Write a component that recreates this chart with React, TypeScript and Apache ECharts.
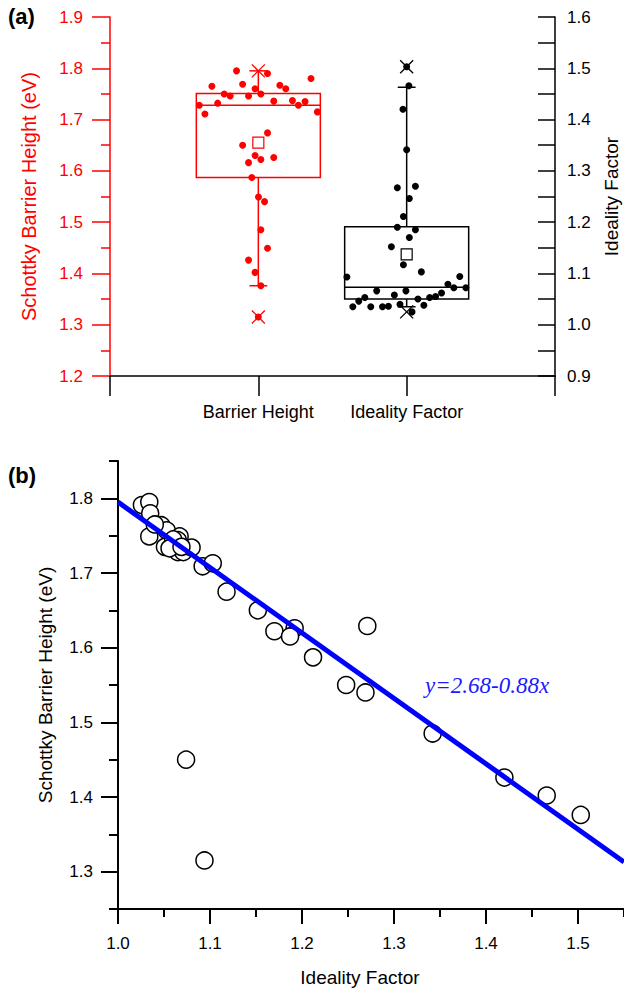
import React, { useEffect, useRef } from 'react';
import * as echarts from 'echarts';

// ---------- Panel (a): box chart data ----------
const categories = ['Barrier Height', 'Ideality Factor'];

const barrierHeights = [1.795, 1.790, 1.765, 1.769, 1.767, 1.760, 1.780, 1.750, 1.746, 1.746, 1.760, 1.750, 1.728, 1.732, 1.711, 1.736, 1.737, 1.728, 1.735, 1.715, 1.674, 1.650, 1.630, 1.616, 1.622, 1.626, 1.587, 1.549, 1.540, 1.485, 1.449, 1.426, 1.402, 1.376, 1.315];
const barrierJitter = [-0.147, 0.062, -0.313, -0.106, 0.145, 0.185, 0.355, -0.230, -0.190, -0.066, -0.022, 0.017, -0.398, -0.274, -0.360, 0.104, 0.230, 0.270, 0.315, 0.398, 0.062, -0.106, -0.022, -0.066, 0.017, 0.104, -0.044, 0.001, 0.042, 0.017, 0.062, -0.066, -0.022, 0.017, 0];

const idealityFactors = [1.267, 1.270, 1.246, 1.211, 1.190, 1.185, 1.170, 1.152, 1.117, 1.103, 1.093, 1.094, 1.079, 1.072, 1.072, 1.066, 1.066, 1.062, 1.055, 1.053, 1.058, 1.053, 1.046, 1.050, 1.035, 1.035, 1.035, 1.036, 1.040, 1.038, 1.025, 1.341, 1.420, 1.466, 1.503];
const idealityJitter = [-0.063, 0.059, 0.018, -0.022, -0.063, 0.059, 0.018, -0.103, -0.022, 0.099, -0.403, 0.358, 0.278, 0.318, 0.399, -0.202, -0.005, 0.235, 0.195, 0.155, -0.083, -0.282, -0.323, 0.076, -0.363, -0.242, -0.163, -0.123, -0.045, 0.116, 0.036, 0, -0.025, 0.015, 0];

// [lower whisker, Q1, median, Q3, upper whisker]
const barrierBox = [1.376, 1.587, 1.728, 1.751, 1.795];
const barrierMean = 1.655;
const barrierMinMax = [1.315, 1.795];
const idealityBox = [1.035, 1.050, 1.073, 1.191, 1.463];
const idealityMean = 1.137;
const idealityMinMax = [1.025, 1.503];

const leftTicksA = { min: 1.2, max: 1.9, step: 0.1 };
const rightTicksA = { min: 0.9, max: 1.6, step: 0.1 };

// ---------- Panel (b): scatter data ----------
const scatterIdeality = [1.026, 1.034, 1.035, 1.047, 1.053, 1.034, 1.067, 1.065, 1.051, 1.065, 1.071, 1.080, 1.092, 1.103, 1.118, 1.152, 1.170, 1.192, 1.187, 1.212, 1.271, 1.248, 1.269, 1.342, 1.074, 1.094, 1.420, 1.466, 1.503, 1.060, 1.040, 1.056, 1.069];
const scatterBarrier = [1.791, 1.795, 1.780, 1.764, 1.757, 1.749, 1.749, 1.744, 1.735, 1.728, 1.728, 1.734, 1.709, 1.713, 1.675, 1.650, 1.622, 1.626, 1.615, 1.587, 1.629, 1.550, 1.540, 1.485, 1.450, 1.315, 1.426, 1.402, 1.376, 1.745, 1.765, 1.733, 1.735];
const fitX = [1.0, 1.55];
const fitY = [1.795, 1.313];
const fitLabel = 'y=2.68-0.88x';

const xTicksB = [1.0, 1.1, 1.2, 1.3, 1.4, 1.5];
const xMinorTicksB = [1.05, 1.15, 1.25, 1.35, 1.45, 1.55];
const yTicksB = [1.3, 1.4, 1.5, 1.6, 1.7, 1.8];
const yMinorTicksB = [1.25, 1.35, 1.45, 1.55, 1.65, 1.75, 1.85];

const FONT = 'Liberation Sans';
const RED = '#ff0000';

const GRID_A = { left: 110, top: 17, width: 445, height: 359, outerBoundsMode: 'none' };
const GRID_B = { left: 118, top: 461, width: 506, height: 448, outerBoundsMode: 'none' };

function boxRenderer(color: string) {
  return (params: any, api: any) => {
    const x = api.value(0);
    const c = (v: number) => api.coord([x, v]);
    const half = api.size([0.418, 0])[0];
    const cap = api.size([0.06, 0])[0];
    const pWl = c(api.value(1));
    const pQ1 = c(api.value(2));
    const pMed = c(api.value(3));
    const pQ3 = c(api.value(4));
    const pWh = c(api.value(5));
    const pMean = c(api.value(6));
    const pMin = c(api.value(7));
    const pMax = c(api.value(8));
    const cx = pQ1[0];
    const ls = { stroke: color, lineWidth: 1.5 };
    const s = 6.5;
    const cross = (p: number[]) => [
      { type: 'line', shape: { x1: cx - s, y1: p[1] - s, x2: cx + s, y2: p[1] + s }, style: { stroke: color, lineWidth: 1.3 } },
      { type: 'line', shape: { x1: cx - s, y1: p[1] + s, x2: cx + s, y2: p[1] - s }, style: { stroke: color, lineWidth: 1.3 } },
    ];
    return {
      type: 'group',
      children: [
        { type: 'rect', shape: { x: cx - half, y: pQ3[1], width: 2 * half, height: pQ1[1] - pQ3[1] }, style: { ...ls, fill: 'none' } },
        { type: 'line', shape: { x1: cx - half, y1: pMed[1], x2: cx + half, y2: pMed[1] }, style: ls },
        { type: 'line', shape: { x1: cx, y1: pQ3[1], x2: cx, y2: pWh[1] }, style: ls },
        { type: 'line', shape: { x1: cx, y1: pQ1[1], x2: cx, y2: pWl[1] }, style: ls },
        { type: 'line', shape: { x1: cx - cap, y1: pWh[1], x2: cx + cap, y2: pWh[1] }, style: ls },
        { type: 'line', shape: { x1: cx - cap, y1: pWl[1], x2: cx + cap, y2: pWl[1] }, style: ls },
        ...cross(pMin),
        ...cross(pMax),
        { type: 'rect', z2: 10, shape: { x: cx - 5.5, y: pMean[1] - 5.5, width: 11, height: 11 }, style: { stroke: color, lineWidth: 1.2, fill: '#ffffff' } },
      ],
    };
  };
}

export default function App() {
  const ref = useRef<HTMLDivElement>(null);
  useEffect(() => {
    if (!ref.current) return;
    const chart = echarts.init(ref.current, null, { renderer: 'svg' });
    const fmt1 = (v: number) => v.toFixed(1);
    const option: any = {
      animation: false,
      backgroundColor: '#ffffff',
      textStyle: { fontFamily: FONT },
      grid: [GRID_A, GRID_B],
      xAxis: [
        {
          gridIndex: 0, type: 'value', position: 'bottom', min: 0, max: 3, interval: 1,
          axisLine: { show: true, onZero: false, lineStyle: { color: '#000', width: 1.5 } },
          axisTick: { show: true, length: 20, lineStyle: { color: '#000', width: 1.5 } },
          axisLabel: { customValues: [1, 2], formatter: (v: number) => categories[Math.round(v) - 1], fontSize: 18, color: '#000', margin: 27, fontFamily: FONT },
          splitLine: { show: false },
        },
        {
          gridIndex: 1, type: 'value', position: 'bottom', min: 1.0, max: 1.55, interval: 0.05,
          axisLine: { show: true, onZero: false, lineStyle: { color: '#000', width: 2 } },
          axisTick: { show: true, customValues: xTicksB, length: 15, lineStyle: { color: '#000', width: 2 } },
          axisLabel: { customValues: xTicksB, formatter: fmt1, fontSize: 17, color: '#000', margin: 26, fontFamily: FONT },
          splitLine: { show: false },
          name: 'Ideality Factor', nameLocation: 'middle', nameGap: 59,
          nameTextStyle: { fontSize: 19, color: '#000', fontFamily: FONT, padding: [0, 22, 0, 0] },
        },
        {
          // minor ticks: top slot shifted down onto the bottom axis line
          gridIndex: 1, type: 'value', position: 'top', offset: -GRID_B.height, min: 1.0, max: 1.55, interval: 0.05,
          axisLine: { show: false, onZero: false },
          axisTick: { show: true, inside: true, customValues: xMinorTicksB, length: 8, lineStyle: { color: '#000', width: 2 } },
          axisLabel: { show: false },
          splitLine: { show: false },
        },
      ],
      yAxis: [
        {
          gridIndex: 0, type: 'value', position: 'left', min: leftTicksA.min, max: leftTicksA.max, interval: leftTicksA.step,
          axisLine: { show: true, onZero: false, lineStyle: { color: RED, width: 1.5 } },
          axisTick: { show: true, length: 18, lineStyle: { color: RED, width: 1.5 } },
          minorTick: { show: true, splitNumber: 2, length: 9, lineStyle: { color: RED, width: 1.5 } },
          axisLabel: { formatter: fmt1, fontSize: 17, color: RED, margin: 27, fontFamily: FONT },
          splitLine: { show: false },
          name: 'Schottky Barrier Height (eV)', nameLocation: 'middle', nameGap: 71,
          nameTextStyle: { fontSize: 20, color: RED, fontFamily: FONT },
        },
        {
          gridIndex: 0, type: 'value', position: 'right', min: rightTicksA.min, max: rightTicksA.max, interval: rightTicksA.step,
          axisLine: { show: true, onZero: false, lineStyle: { color: '#000', width: 1.5 } },
          axisTick: { show: true, inside: true, length: 17, lineStyle: { color: '#000', width: 1.5 } },
          minorTick: { show: true, splitNumber: 2, length: 17, lineStyle: { color: '#000', width: 1.5 } },
          axisLabel: { formatter: fmt1, fontSize: 17, color: '#000', margin: 12, fontFamily: FONT },
          splitLine: { show: false },
          name: 'Ideality Factor', nameLocation: 'middle', nameGap: 47,
          nameTextStyle: { fontSize: 19, color: '#000', fontFamily: FONT },
        },
        {
          gridIndex: 1, type: 'value', position: 'left', min: 1.25, max: 1.85, interval: 0.05,
          axisLine: { show: true, onZero: false, lineStyle: { color: '#000', width: 2 } },
          axisTick: { show: true, customValues: yTicksB, length: 17, lineStyle: { color: '#000', width: 2 } },
          axisLabel: { customValues: yTicksB, formatter: fmt1, fontSize: 17, color: '#000', margin: 25, fontFamily: FONT },
          splitLine: { show: false },
          name: 'Schottky Barrier Height (eV)', nameLocation: 'middle', nameGap: 63,
          nameTextStyle: { fontSize: 19, color: '#000', fontFamily: FONT },
        },
        {
          // minor ticks: right slot shifted left onto the left axis line
          gridIndex: 1, type: 'value', position: 'right', offset: -GRID_B.width, min: 1.25, max: 1.85, interval: 0.05,
          axisLine: { show: false, onZero: false },
          axisTick: { show: true, inside: true, customValues: yMinorTicksB, length: 9, lineStyle: { color: '#000', width: 2 } },
          axisLabel: { show: false },
          splitLine: { show: false },
        },
      ],
      series: [
        {
          type: 'custom', xAxisIndex: 0, yAxisIndex: 0, z: 2,
          renderItem: boxRenderer(RED),
          data: [[1, ...barrierBox, barrierMean, ...barrierMinMax]],
          encode: { x: 0, y: [1, 2, 3, 4, 5, 6, 7, 8] },
        },
        {
          type: 'custom', xAxisIndex: 0, yAxisIndex: 1, z: 2,
          renderItem: boxRenderer('#000000'),
          data: [[2, ...idealityBox, idealityMean, ...idealityMinMax]],
          encode: { x: 0, y: [1, 2, 3, 4, 5, 6, 7, 8] },
        },
        {
          type: 'scatter', xAxisIndex: 0, yAxisIndex: 0, z: 3,
          symbol: 'circle', symbolSize: 7,
          itemStyle: { color: RED, opacity: 1 },
          data: barrierHeights.map((v, i) => [1 + barrierJitter[i], v]),
        },
        {
          type: 'scatter', xAxisIndex: 0, yAxisIndex: 1, z: 3,
          symbol: 'circle', symbolSize: 7,
          itemStyle: { color: '#000', opacity: 1 },
          data: idealityFactors.map((v, i) => [2 + idealityJitter[i], v]),
        },
        {
          type: 'scatter', xAxisIndex: 1, yAxisIndex: 2, z: 3,
          symbol: 'circle', symbolSize: 17,
          itemStyle: { color: '#ffffff', borderColor: '#000', borderWidth: 1.5, opacity: 1 },
          data: scatterIdeality.map((v, i) => [v, scatterBarrier[i]]),
        },
        {
          type: 'line', xAxisIndex: 1, yAxisIndex: 2, z: 4,
          symbol: 'none', clip: true,
          lineStyle: { color: '#0000ff', width: 5 },
          data: fitX.map((v, i) => [v, fitY[i]]),
        },
      ],
      graphic: [
        { type: 'text', left: 8, top: 5, style: { text: '(a)', font: `bold 22px "${FONT}"`, fill: '#000' } },
        { type: 'text', left: 8, top: 464, style: { text: '(b)', font: `bold 22px "${FONT}"`, fill: '#000' } },
        { type: 'text', left: 425, top: 674, style: { text: fitLabel, font: 'italic 23px "Liberation Serif"', fill: '#1a1aff' } },
      ],
    };
    chart.setOption(option);
    return () => chart.dispose();
  }, []);
  return <div ref={ref} style={{ position: 'absolute', left: 0, top: 0, width: 624, height: 991 }} />;
}
